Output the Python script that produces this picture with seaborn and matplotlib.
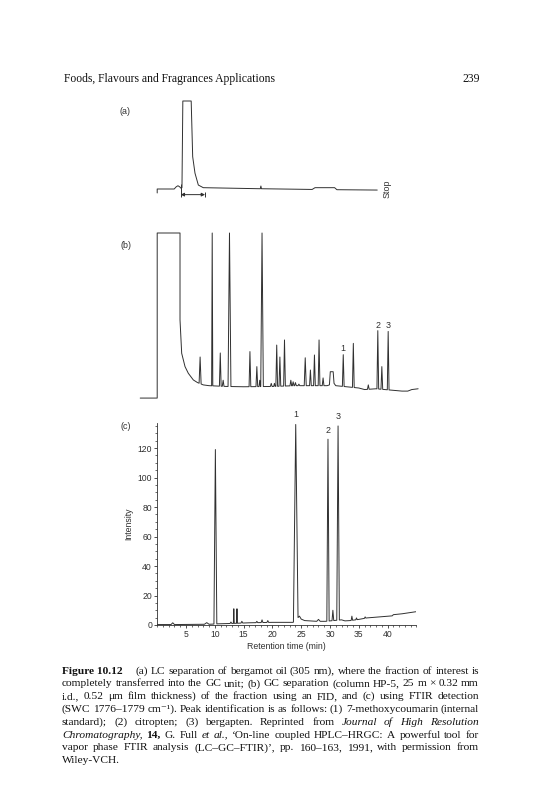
import numpy as np
import pandas as pd
import matplotlib
matplotlib.use("Agg")
import matplotlib.pyplot as plt
import seaborn as sns
from matplotlib.ticker import MultipleLocator

# ---- data ----
# (a) LC trace (305 nm), time axis in min, signal in arbitrary units (top is clipped at 100)
lc_time = [0.0, 0.0, 2.95, 3.3, 3.6, 3.9, 4.1, 4.3, 4.45, 5.9, 6.16, 6.56, 7.14, 8.0,
           17.9, 18.0, 18.1, 26.9, 27.4, 30.8, 31.2, 38.2]
lc_signal = [-4.5, 0.0, 0.0, 2.5, 3.7, 2.5, 1.0, 1.5, 100, 100, 36.7, 18.0, 4.5, 1.5,
             0.3, 3.4, 0.3, -0.5, 1.5, 1.5, -0.8, -1.2]
lc_cut = [4.08, 8.3]  # transferred fraction

# (b) GC-FID trace: baseline / solvent block, then peaks
fid_base_t = [-2.95, 0.0, 0.0, 3.96, 3.96, 4.25, 4.83, 5.4, 6.27, 7.0, 8.0, 9.0, 12.0, 15.0,
              20.0, 24.0, 25.0, 29.5, 29.9, 30.05, 30.55, 30.7, 31.0, 35.0, 36.0, 38.0,
              41.0, 42.5, 43.5, 44.2, 45.3]
fid_base_y = [-6.5, -6.5, 100, 100, 44, 22.4, 13.8, 9.5, 5.2, 3.5, 2.0, 1.5, 1.0, 0.8,
              1.0, 1.5, 1.5, 1.5, 2.0, 10.5, 10.5, 3.0, 1.5, 0.0, -1.0, -0.5,
              -1.5, -2.0, -2.0, -1.0, -0.5]
fid_peak_t = [7.45, 9.55, 10.95, 11.45, 12.55, 16.1, 17.3, 17.8, 18.2, 19.8, 20.35, 20.75,
              21.3, 22.1, 23.2, 23.6, 24.0, 24.6, 25.7, 26.6, 27.3, 28.1, 28.8, 32.3,
              34.05, 36.65, 38.3, 39.0, 40.1]
fid_peak_y = [20, 100, 22.6, 5, 100, 23.5, 13.8, 5, 100, 3, 3, 27.7,
              20, 31, 5, 4, 3.5, 2.5, 19.5, 11.6, 21.3, 31, 6.5, 21.5,
              28.8, 2, 37, 13.8, 36.5]
fid_peak_w = [0.35, 0.2, 0.3, 0.3, 0.5, 0.3, 0.3, 0.25, 0.45, 0.3, 0.25, 0.3,
              0.3, 0.3, 0.3, 0.3, 0.3, 0.3, 0.35, 0.3, 0.3, 0.3, 0.3, 0.3,
              0.3, 0.3, 0.3, 0.3, 0.3]
fid_label_t = [32.3, 38.3, 40.1]
fid_label_y = [25.2, 40.6, 40.0]

# (c) FTIR trace (SWC 1776-1779 cm-1)
ir_base_t = [0.0, 2.4, 2.7, 3.0, 8.2, 8.6, 9.0, 9.6, 10.6, 12.5, 16.0, 20.0, 23.6, 24.7,
             25.0, 25.6, 27.7, 28.0, 28.3, 29.2, 32.0, 32.6, 33.5, 35.0, 36.4, 40.8,
             41.0, 42.5, 44.9]
ir_base_y = [0.3, 0.3, 1.5, 0.3, 0.5, 1.6, 0.5, 0.6, 0.8, 1.0, 1.5, 1.8, 1.8, 6.0,
             4.0, 3.0, 2.5, 3.8, 2.5, 2.5, 3.5, 2.8, 3.0, 3.8, 4.8, 6.2,
             7.0, 7.6, 9.0]
ir_peak_t = [10.1, 12.8, 13.3, 13.85, 14.7, 17.3, 18.2, 19.2, 24.05, 29.65, 30.5, 31.4,
             33.8, 34.6, 36.1]
ir_peak_y = [119, 2, 11, 11, 2.5, 2.5, 3.5, 3, 136, 126, 10, 135, 6, 4.8, 5.5]
ir_peak_w = [0.5, 0.3, 0.15, 0.15, 0.3, 0.3, 0.3, 0.3, 0.8, 0.4, 0.3, 0.45, 0.25, 0.25, 0.25]
ir_label_t = [24.05, 29.65, 31.4]
ir_label_y = [142.5, 131.6, 141.1]
peak_names = ["1", "2", "3"]

x_ticks = [5, 10, 15, 20, 25, 30, 35, 40]
y_ticks = [0, 20, 40, 60, 80, 100, 120]

header_left = "Foods, Flavours and Fragrances Applications"
header_right = "239"
# '#' = bold word, '*' = italic word
caption = [
    "#Figure\u00a010.12 (a) LC separation of bergamot oil (305 nm), where the fraction of interest is",
    "completely transferred into the GC unit; (b) GC separation (column HP-5, 25 m × 0.32 mm",
    "i.d., 0.52 μm film thickness) of the fraction using an FID, and (c) using FTIR detection",
    "(SWC 1776–1779 cm⁻¹). Peak identification is as follows: (1) 7-methoxycoumarin (internal",
    "standard); (2) citropten; (3) bergapten. Reprinted from *Journal *of *High *Resolution",
    "*Chromatography, #14, G. Full *et *al., ‘On-line coupled HPLC–HRGC: A powerful tool for",
    "vapor phase FTIR analysis (LC–GC–FTIR)’, pp. 160–163, 1991, with permission from",
    "Wiley-VCH.",
]

# ---- page geometry (pixels of the 537x800 page) ----
W, H = 537, 800
PX_PER_MIN, T0_PX = 5.76, 157.2
INK = "#303030"
SANS = ["Liberation Sans", "DejaVu Sans"]
SERIF = ["Liberation Serif", "DejaVu Serif"]

sns.set_theme(style="ticks")
plt.rcParams["font.family"] = SANS


def frame(left, top, right, bottom):
    return [left / W, 1 - bottom / H, (right - left) / W, (bottom - top) / H]


def t_of(px):
    return (px - T0_PX) / PX_PER_MIN


def trace(base_t, base_y, peak_t=(), peak_y=(), peak_w=()):
    bt = np.asarray(base_t, float)
    by = np.asarray(base_y, float)
    pts = [(t, y) for t, y in zip(bt, by)
           if not any(abs(t - pt) < pw / 2 for pt, pw in zip(peak_t, peak_w))]
    for pt, py, pw in zip(peak_t, peak_y, peak_w):
        pts += [(pt - pw / 2, np.interp(pt - pw / 2, bt, by)), (pt, py),
                (pt + pw / 2, np.interp(pt + pw / 2, bt, by))]
    pts.sort(key=lambda p: p[0])
    return pd.DataFrame(pts, columns=["time", "signal"])


def px_text(x, y, s, **kw):
    return fig.text(x / W, 1 - y / H, s, **kw)


fig = plt.figure(figsize=(W / 100, H / 100), dpi=100)
line_kw = dict(sort=False, estimator=None, color=INK, linewidth=0.7)

# (a) LC
ax_a = fig.add_axes(frame(135, 95, 425, 205))
sns.lineplot(data=trace(lc_time, lc_signal), x="time", y="signal", ax=ax_a, **line_kw)
ax_a.set_xlim(t_of(135), t_of(425))
ax_a.set_ylim((189 - 205) / 0.88, (189 - 95) / 0.88)
ax_a.vlines(lc_cut, [-8.8, -9.5], [5.3, -3.0], color=INK, lw=0.7)
ax_a.annotate("", xy=(lc_cut[0], -6.4), xytext=(lc_cut[1], -6.4),
              arrowprops=dict(arrowstyle="<|-|>", color=INK, lw=0.7,
                              shrinkA=0, shrinkB=0, mutation_scale=5))
ax_a.text(t_of(387), 0, "Stop", rotation=90, ha="center", va="center",
          fontsize=6.4, color=INK)
ax_a.axis("off")

# (b) GC-FID
ax_b = fig.add_axes(frame(135, 225, 425, 405))
sns.lineplot(data=trace(fid_base_t, fid_base_y, fid_peak_t, fid_peak_y, fid_peak_w),
             x="time", y="signal", ax=ax_b, **line_kw)
ax_b.set_xlim(t_of(135), t_of(425))
ax_b.set_ylim((388 - 405) / 1.55, (388 - 225) / 1.55)
for t, y, s in zip(fid_label_t, fid_label_y, peak_names):
    ax_b.text(t, y, s, ha="center", va="center", fontsize=6.4, color=INK)
ax_b.axis("off")

# (c) FTIR
ax_c = fig.add_axes(frame(T0_PX, 423, T0_PX + 45 * PX_PER_MIN, 625))
sns.lineplot(data=trace(ir_base_t, ir_base_y, ir_peak_t, ir_peak_y, ir_peak_w),
             x="time", y="signal", ax=ax_c, **line_kw)
ax_c.set_xlim(0, 45)
ax_c.set_ylim(0, 137)
ax_c.set_xticks(x_ticks)
ax_c.set_yticks(y_ticks)
ax_c.xaxis.set_minor_locator(MultipleLocator(1))
ax_c.yaxis.set_minor_locator(MultipleLocator(5))
ax_c.tick_params(which="major", direction="out", length=2.5, width=0.6, color=INK,
                 labelsize=6.2, labelcolor=INK, pad=1.2)
ax_c.tick_params(which="minor", direction="out", length=1.4, width=0.5, color=INK)
sns.despine(ax=ax_c)
for side in ("left", "bottom"):
    ax_c.spines[side].set_linewidth(0.6)
    ax_c.spines[side].set_color(INK)
ax_c.set_xlabel("Retention time (min)", fontsize=6.3, color=INK)
ax_c.set_ylabel("Intensity", fontsize=6.3, color=INK)
ax_c.xaxis.set_label_coords(0.5, -0.085)
ax_c.yaxis.set_label_coords(-0.092, 0.5)
for t, y, s in zip(ir_label_t, ir_label_y, peak_names):
    ax_c.text(t, y, s, ha="center", va="center", fontsize=6.4, color=INK)

for (x, y), s in zip([(125.5, 111), (126, 246), (125.5, 427)], ["(a)", "(b)", "(c)"]):
    px_text(x, y, s, ha="center", va="center", fontsize=6.4, color=INK)

# ---- running header ----
renderer = fig.canvas.get_renderer()
hdr = px_text(64, 82, header_left, family=SERIF, fontsize=8, va="baseline", color="#111")
hdr.set_fontsize(8 * 210 / hdr.get_window_extent(renderer).width)
px_text(480, 82, header_right, family=SERIF, fontsize=hdr.get_fontsize(), ha="right",
        va="baseline", color="#111")

# ---- justified caption ----
CAP_L, CAP_R, CAP_Y0, CAP_DY = 62, 479, 673.5, 12.8
lines = []
for i, line in enumerate(caption):
    objs = []
    for w in line.split(" "):
        weight, style = "normal", "normal"
        if w.startswith("#"):
            w, weight = w[1:], "bold"
        elif w.startswith("*"):
            w, style = w[1:], "italic"
        objs.append(px_text(0, CAP_Y0 + i * CAP_DY, w, family=SERIF, fontsize=7.5,
                            weight=weight, style=style, va="baseline", color="#111"))
    lines.append(objs)

gap_after = {(0, 0): 10.0}  # wide gap after "Figure 10.12"


def natural(objs, i, fs):
    ws = [o.get_window_extent(renderer).width for o in objs]
    extra = sum(v for (li, _), v in gap_after.items() if li == i)
    return ws, sum(ws) + extra + 0.25 * fs * 100 / 72 * (len(objs) - 1)


fit = min((CAP_R - CAP_L) / natural(objs, i, 7.5)[1] for i, objs in enumerate(lines[:-1]))
fs = float(np.clip(7.5 * fit, 6.5, 8.5))
for objs in lines:
    for o in objs:
        o.set_fontsize(fs)

for i, objs in enumerate(lines):
    ws, nat = natural(objs, i, fs)
    last = i == len(lines) - 1
    extra = sum(v for (li, _), v in gap_after.items() if li == i)
    space = 0.25 * fs * 100 / 72 if last else (CAP_R - CAP_L - sum(ws) - extra) / (len(objs) - 1)
    x = CAP_L
    for j, (o, w) in enumerate(zip(objs, ws)):
        o.set_x(x / W)
        x += w + space + gap_after.get((i, j), 0.0)

fig.savefig("out.png", dpi=100, facecolor="white")
